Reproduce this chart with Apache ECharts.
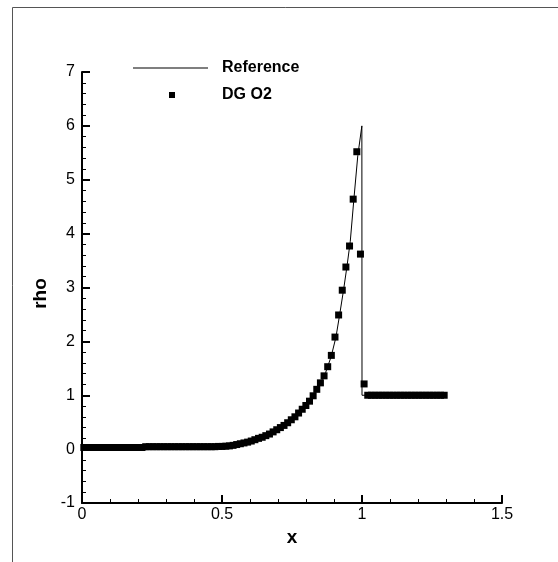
<!DOCTYPE html>
<html>
<head>
<meta charset="utf-8">
<script src="https://cdn.jsdelivr.net/npm/echarts@6/dist/echarts.min.js"></script>
<style>html,body{margin:0;padding:0;background:#fff;}#chart{width:558px;height:562px;}</style>
</head>
<body>
<div id="chart"></div>
<script>
// Reference solution (thin line)
const refX = [0, 0.1, 0.2, 0.3, 0.4, 0.45, 0.5, 0.54, 0.57, 0.6, 0.63, 0.66, 0.69, 0.72, 0.75, 0.78, 0.81, 0.84, 0.87, 0.89, 0.907, 0.92, 0.934, 0.946, 0.958, 0.971, 0.985, 0.9995, 1.0, 1.3];
const refY = [0.0, 0.0, 0.01, 0.015, 0.025, 0.035, 0.05, 0.07, 0.11, 0.145, 0.19, 0.25, 0.33, 0.43, 0.55, 0.70, 0.87, 1.11, 1.42, 1.72, 2.08, 2.49, 2.95, 3.38, 3.85, 4.64, 5.45, 6.0, 1.0, 1.0];

// DG O2 (square markers)
const dgX = [
  0.0065,0.0195,0.0325,0.0455,0.0585,0.0715,0.0845,0.0975,0.1105,0.1235,
  0.1365,0.1495,0.1625,0.1755,0.1885,0.2015,0.2145,0.2275,0.2405,0.2535,
  0.2665,0.2795,0.2925,0.3055,0.3185,0.3315,0.3445,0.3575,0.3705,0.3835,
  0.3965,0.4095,0.4225,0.4355,0.4485,0.4615,0.4745,0.4875,0.5005,0.5135,
  0.5265,0.5395,0.5525,0.5655,0.5785,0.5915,0.6045,0.6175,0.6305,0.6435,
  0.6565,0.6695,0.6825,0.6955,0.7085,0.7215,0.7345,0.7475,0.7605,0.7735,
  0.7865,0.7995,0.8125,0.8255,0.8385,0.8515,0.8645,0.8775,0.8905,0.9035,
  0.9165,0.9295,0.9425,0.9555,0.9685,0.9815,0.9945,1.0075,1.0205,1.0335,
  1.0465,1.0595,1.0725,1.0855,1.0985,1.1115,1.1245,1.1375,1.1505,1.1635,
  1.1765,1.1895,1.2025,1.2155,1.2285,1.2415,1.2545,1.2675,1.2805,1.2935
];
const dgY = [
  0.03,0.03,0.03,0.03,0.03,0.03,0.03,0.03,0.03,0.03,
  0.03,0.03,0.03,0.03,0.03,0.03,0.03,0.045,0.045,0.045,
  0.045,0.045,0.045,0.045,0.045,0.045,0.045,0.045,0.045,0.045,
  0.045,0.045,0.045,0.045,0.045,0.045,0.045,0.05,0.05,0.055,
  0.06,0.07,0.085,0.10,0.115,0.13,0.15,0.175,0.20,0.22,
  0.25,0.28,0.32,0.36,0.40,0.44,0.49,0.545,0.60,0.67,
  0.74,0.81,0.89,0.99,1.11,1.23,1.36,1.53,1.74,2.08,
  2.49,2.95,3.38,3.77,4.64,5.52,3.62,1.21,1.0,1.0,
  1.0,1.0,1.0,1.0,1.0,1.0,1.0,1.0,1.0,1.0,
  1.0,1.0,1.0,1.0,1.0,1.0,1.0,1.0,1.0,1.0
];

const xTicks = [0, 0.5, 1, 1.5];
const yTicks = [-1, 0, 1, 2, 3, 4, 5, 6, 7];
const seriesNames = ['Reference', 'DG O2'];
const axisNames = ['x', 'rho'];

const chart = echarts.init(document.getElementById('chart'), null, {renderer: 'canvas'});
const font = 'Liberation Sans, Arial, sans-serif';
chart.setOption({
  animation: false,
  backgroundColor: '#fff',
  graphic: [{
    type: 'rect', left: 10, top: 5, silent: true,
    shape: {width: 600, height: 600},
    style: {fill: 'none', stroke: '#555', lineWidth: 1}
  }],
  grid: {left: 82, right: 56, top: 72, bottom: 59, containLabel: false},
  legend: [{
    data: [{name: seriesNames[0], icon: 'rect', itemStyle: {color: '#000', opacity: 1}}],
    left: 128, top: 55, itemWidth: 75, itemHeight: 1, selectedMode: false,
    textStyle: {fontFamily: font, fontSize: 16, fontWeight: 'bold', color: '#000', padding: [0, 0, 0, 9]}
  }, {
    data: [{name: seriesNames[1], icon: 'rect', itemStyle: {color: '#000', opacity: 1}}],
    left: 164, top: 82, itemWidth: 6, itemHeight: 6, selectedMode: false,
    textStyle: {fontFamily: font, fontSize: 16, fontWeight: 'bold', color: '#000', padding: [0, 0, 0, 42]}
  }],
  xAxis: {
    type: 'value', min: xTicks[0], max: xTicks[xTicks.length - 1], interval: 0.5,
    name: axisNames[0], nameLocation: 'middle', nameGap: 20,
    nameTextStyle: {fontFamily: font, fontSize: 19, fontWeight: 'bold', color: '#000'},
    axisLine: {show: true, onZero: false, lineStyle: {color: '#000', width: 2}},
    axisTick: {show: true, inside: true, length: 8, lineStyle: {color: '#000', width: 2}},
    minorTick: {show: true, splitNumber: 5, length: 4, lineStyle: {color: '#000', width: 1}},
    splitLine: {show: false},
    axisLabel: {fontFamily: font, fontSize: 16, color: '#000', margin: 4,
      formatter: v => String(v)}
  },
  yAxis: {
    type: 'value', min: yTicks[0], max: yTicks[yTicks.length - 1], interval: 1,
    name: axisNames[1], nameLocation: 'middle', nameGap: 25, nameRotate: 90,
    nameTextStyle: {fontFamily: font, fontSize: 19, fontWeight: 'bold', color: '#000', padding: [0, 12, 0, 0]},
    axisLine: {show: true, onZero: false, lineStyle: {color: '#000', width: 2}},
    axisTick: {show: true, inside: true, length: 8, lineStyle: {color: '#000', width: 2}},
    minorTick: {show: true, splitNumber: 5, length: 4, lineStyle: {color: '#000', width: 1}},
    splitLine: {show: false},
    axisLabel: {fontFamily: font, fontSize: 16, color: '#000', margin: 7,
      formatter: v => String(v)}
  },
  series: [{
    name: seriesNames[0], type: 'line', symbol: 'none', showSymbol: false,
    data: refX.map((x, i) => [x, refY[i]]),
    lineStyle: {color: '#000', width: 1}, itemStyle: {color: '#000'}, z: 3
  }, {
    name: seriesNames[1], type: 'scatter', symbol: 'rect', symbolSize: 7,
    data: dgX.map((x, i) => [x, dgY[i]]),
    itemStyle: {color: '#000', opacity: 1}, z: 2
  }]
});
</script>
</body>
</html>
